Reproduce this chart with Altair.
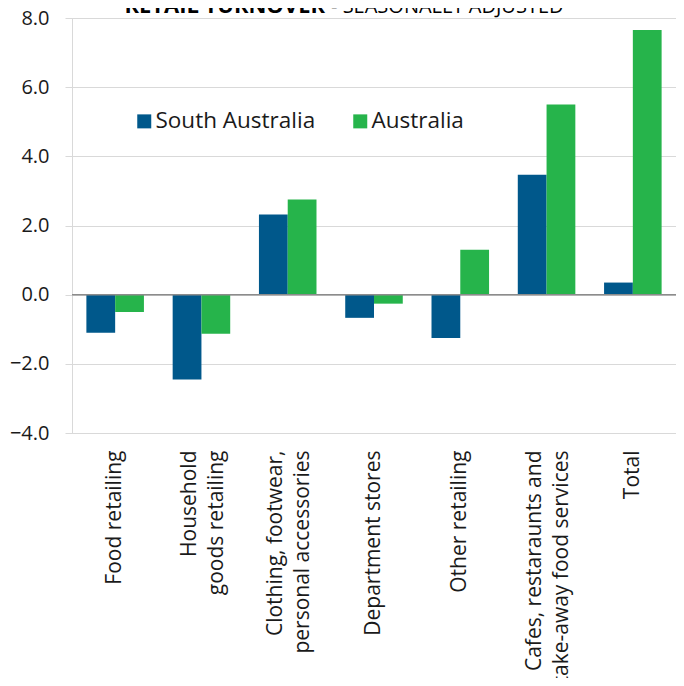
import altair as alt
import pandas as pd

categories = [
    "Food retailing",
    "Household goods retailing",
    "Clothing, footwear, personal accessories",
    "Department stores",
    "Other retailing",
    "Cafes, restaraunts and take-away food services",
    "Total",
]
# axis label lines (first line is drawn on the left once rotated)
label_lines = {
    "Food retailing": ["Food retailing"],
    "Household goods retailing": ["Household\u00a0\u00a0\u00a0\u00a0", "goods retailing"],
    "Clothing, footwear, personal accessories": ["Clothing, footwear,", "personal accessories"],
    "Department stores": ["Department stores"],
    "Other retailing": ["Other retailing"],
    "Cafes, restaraunts and take-away food services": ["Cafes, restaraunts and\u00a0\u00a0", "take-away food services"],
    "Total": ["Total"],
}
series = ["South Australia", "Australia"]
south_australia = [-1.1, -2.45, 2.32, -0.67, -1.25, 3.47, 0.35]
australia = [-0.5, -1.13, 2.75, -0.26, 1.3, 5.5, 7.65]
y_ticks = [-4, -2, 0, 2, 4, 6, 8]
title_bold = "RETAIL TURNOVER"
title_rest = "- SEASONALLY ADJUSTED"
colors = ["#00588B", "#26B44B"]

rows = []
for c, a, b in zip(categories, south_australia, australia):
    rows.append({"category": c, "series": series[0], "value": a})
    rows.append({"category": c, "series": series[1], "value": b})
df = pd.DataFrame(rows)

LINE_H = 27

# label expression mapping category -> lines
expr_parts = []
for c in categories:
    lines = label_lines[c]
    arr = "[" + ",".join("'" + l.replace("'", "\\'") + "'" for l in lines) + "]"
    expr_parts.append(f"datum.label == '{c}' ? {arr}")
label_expr = " : ".join(expr_parts) + " : datum.label"

multi = [c for c in categories if len(label_lines[c]) > 1]
multi_test = "indexof([" + ",".join("'" + c + "'" for c in multi) + "], datum.label) >= 0"

FONT = "Open Sans"

bars = alt.Chart(df).mark_bar().encode(
    x=alt.X(
        "category:N",
        sort=categories,
        scale=alt.Scale(paddingInner=0.333, paddingOuter=0.1667),
        axis=alt.Axis(
            title=None,
            labelAngle=-90,
            labelAlign="right",
            labelBaseline="middle",
            labelFontSize=21,
            labelLineHeight=LINE_H,
            labelPadding=17,
            labelLimit=0,
            labelColor="#1a1a1a",
            labelFont=FONT,
            labelOffset={"condition": {"test": multi_test, "value": -LINE_H / 2 + 2}, "value": 0},
            ticks=False,
            domain=False,
            labelExpr=label_expr,
        ),
    ),
    xOffset=alt.XOffset("series:N", sort=series, scale=alt.Scale(paddingInner=0, paddingOuter=0)),
    y=alt.Y(
        "value:Q",
        scale=alt.Scale(domain=[-4, 8], nice=False, zero=False),
        axis=alt.Axis(
            title=None,
            values=y_ticks,
            format=".1f",
            labelFontSize=20,
            labelFont=FONT,
            labelColor="#1a1a1a",
            labelPadding=16,
            tickSize=7,
            tickColor="#D9D9D9",
            domainColor="#D9D9D9",
            gridColor="#D9D9D9",
            grid=True,
        ),
    ),
    color=alt.Color(
        "series:N",
        sort=series,
        scale=alt.Scale(domain=series, range=colors),
        legend=alt.Legend(
            title=None,
            orient="none",
            legendX=61,
            legendY=92,
            direction="horizontal",
            symbolType="square",
            symbolSize=196,
            symbolStrokeWidth=0,
            labelFontSize=22.5,
            labelFont=FONT,
            labelColor="#1a1a1a",
            labelOffset=0,
            columnPadding=33,
            padding=0,
            labelLimit=0,
        ),
    ),
)

zero = alt.Chart(pd.DataFrame({"y": [0]})).mark_rule(color="#8C8C8C", strokeWidth=1.5).encode(y="y:Q")

t1 = alt.Chart(pd.DataFrame({"t": [title_bold]})).mark_text(
    font=FONT, fontSize=22, fontWeight="bold", align="right", baseline="alphabetic", color="#000000"
).encode(x=alt.value(253), y=alt.value(-5), text="t:N")

t2 = alt.Chart(pd.DataFrame({"t": [title_rest]})).mark_text(
    font=FONT, fontSize=20, fontWeight="normal", align="left", baseline="alphabetic", color="#000000"
).encode(x=alt.value(259), y=alt.value(-5), text="t:N")

chart = alt.layer(bars, zero, t1, t2).properties(
    width=604,
    height=415,
    autosize=alt.AutoSizeParams(type="none"),
    padding={"left": 64, "top": 10, "right": 0, "bottom": 245},
).configure_view(stroke="#D9D9D9").configure(font=FONT)

chart.save("out.html", embed_options={"renderer": "svg", "actions": False})
